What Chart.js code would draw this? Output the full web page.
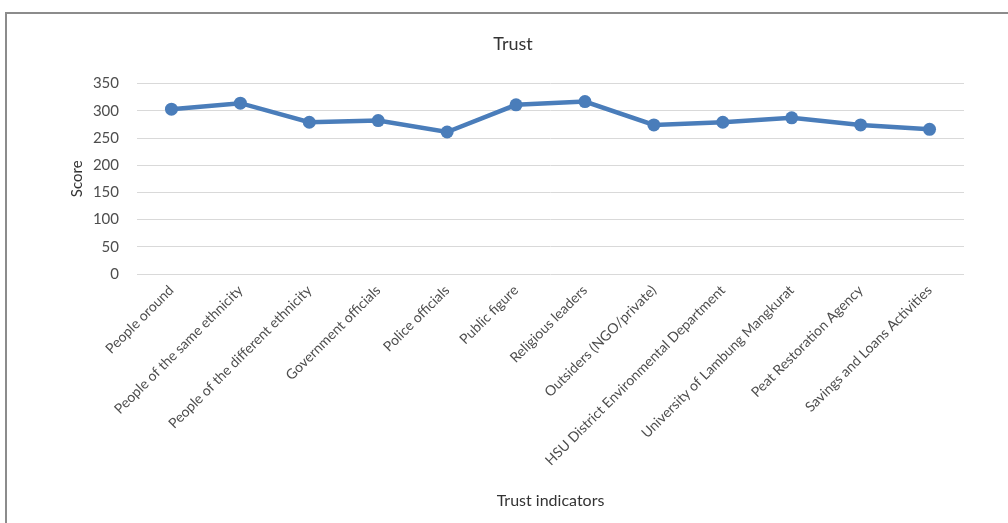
<!doctype html>
<html lang="en">
<head>
<meta charset="utf-8">
<title>Trust</title>
<script src="https://cdn.jsdelivr.net/npm/chart.js@4.4.1/dist/chart.umd.min.js"></script>
<style>
    html, body {
        margin: 0;
        padding: 0;
        background: #fff;
        overflow: hidden;
        width: 1008px;
        height: 523px;
    }
    #frame {
        position: absolute;
        left: 5px;
        top: 12px;
        width: 1100px;
        height: 600px;
        border: 2px solid #8c8c8c;
    }
    #chart {
        position: absolute;
        left: 0;
        top: 0;
    }
</style>
</head>
<body>
<div id="frame"></div>
<canvas id="chart" width="1008" height="523"></canvas>

<script>
    var categories = [
        "People oround",
        "People of the same ethnicity",
        "People of the different ethnicity",
        "Government officials",
        "Police officials",
        "Public figure",
        "Religious leaders",
        "Outsiders (NGO/private)",
        "HSU District Environmental Department",
        "University of Lambung Mangkurat",
        "Peat Restoration Agency",
        "Savings and Loans Activities"
    ];
    var scores = [303, 314, 279, 282, 261, 311, 317, 274, 279, 287, 274, 266];
    var yTicks = [0, 50, 100, 150, 200, 250, 300, 350];

    var lineBlue = "#4a7dba";
    var textGrey = "#4d4d4d";
    var fontName = "Lato, 'Liberation Sans', sans-serif";

    var ctx = document.getElementById("chart").getContext("2d");
    var myLine = new Chart(ctx, {
        type: "line",
        data: {
            labels: categories,
            datasets: [{
                label: "Score",
                data: scores,
                borderColor: lineBlue,
                backgroundColor: lineBlue,
                borderWidth: 4.5,
                pointRadius: 6.5,
                pointBorderWidth: 0,
                pointBackgroundColor: lineBlue,
                tension: 0,
                fill: false
            }]
        },
        options: {
            responsive: false,
            animation: false,
            layout: {
                padding: { left: 62, right: 44, top: 0, bottom: 0 }
            },
            plugins: {
                legend: { display: false },
                tooltip: { enabled: false },
                title: {
                    display: true,
                    text: "Trust",
                    color: "#333333",
                    font: { family: fontName, size: 18, weight: "normal" },
                    padding: { top: 33, bottom: 29 }
                }
            },
            scales: {
                x: {
                    offset: true,
                    grid: { display: false, drawTicks: false },
                    border: { display: false },
                    ticks: {
                        color: textGrey,
                        font: { family: fontName, size: 14 },
                        minRotation: 45,
                        maxRotation: 45,
                        autoSkip: false,
                        padding: 8
                    },
                    title: {
                        display: true,
                        text: "Trust indicators",
                        color: "#333333",
                        font: { family: fontName, size: 16 },
                        padding: { top: 0, bottom: 13 }
                    },
                    afterFit: function(scale) {
                        scale.height = 523 - 274;
                    }
                },
                y: {
                    min: 0,
                    max: 350,
                    afterBuildTicks: function(scale) {
                        scale.ticks = yTicks.map(function(v) { return { value: v }; });
                    },
                    grid: {
                        color: "#d9d9d9",
                        lineWidth: 1,
                        drawTicks: false
                    },
                    border: { display: false },
                    ticks: {
                        color: textGrey,
                        font: { family: fontName, size: 15 },
                        padding: 18
                    },
                    title: {
                        display: true,
                        text: "Score",
                        color: "#333333",
                        font: { family: fontName, size: 15 },
                        padding: { top: 6, bottom: 0 }
                    },
                    afterFit: function(scale) {
                        scale.width = 137 - 62;
                    }
                }
            }
        }
    });
</script>
</body>
</html>
